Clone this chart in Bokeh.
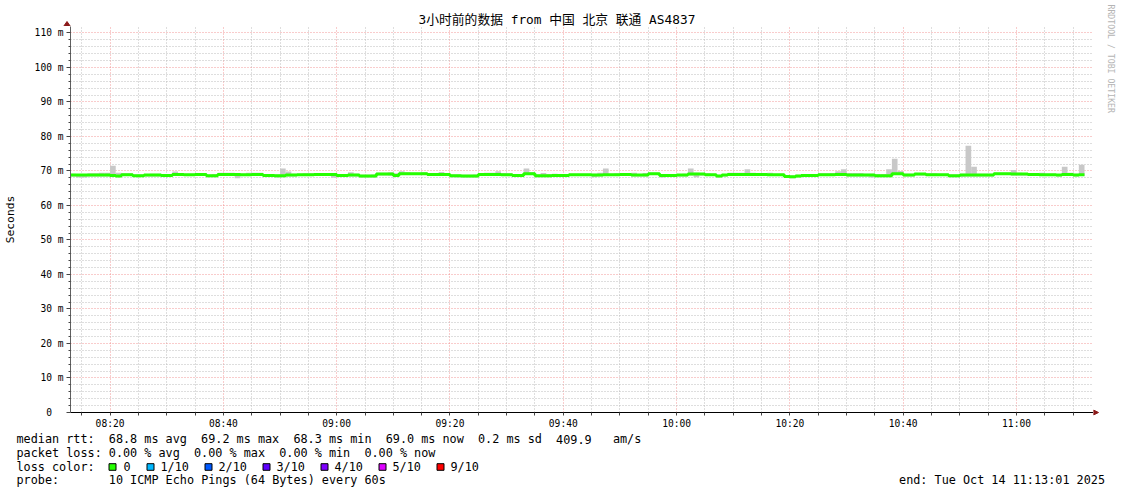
import datetime as dt
import math
from bokeh.plotting import figure
from bokeh.layouts import column, row
from bokeh.models import FixedTicker, Range1d, DatetimeTickFormatter
from bokeh.core.properties import value
from bokeh.embed import file_html
from bokeh.resources import INLINE

# ---------------- data ----------------
title_text = "3小时前的数据 from 中国 北京 联通 AS4837"
range_start = dt.datetime(2025, 10, 14, 8, 13, 1)
range_end = dt.datetime(2025, 10, 14, 11, 13, 1)
first_bin = dt.datetime(2025, 10, 14, 8, 13, 0)
step_minutes = 1

median_ms = [
    68.8, 68.8, 68.8, 68.8, 68.8, 68.8, 68.8, 68.7, 68.5, 68.9,
    68.9, 68.6, 68.6, 68.8, 68.8, 68.8, 68.7, 68.7, 69.0, 69.0,
    68.9, 68.9, 69.0, 69.0, 68.6, 68.6, 69.0, 69.0, 69.0, 69.0,
    68.9, 68.9, 69.0, 69.0, 68.7, 68.7, 68.6, 68.6, 68.8, 68.8,
    68.9, 68.9, 68.9, 69.0, 69.0, 69.0, 69.0, 68.7, 68.7, 68.8,
    68.8, 68.5, 68.5, 68.5, 69.1, 69.1, 69.1, 68.7, 69.2, 69.2,
    69.2, 69.2, 69.2, 69.0, 69.0, 69.0, 69.0, 68.6, 68.6, 68.5,
    68.5, 68.5, 69.0, 69.0, 69.0, 69.0, 68.9, 68.9, 68.7, 68.7,
    69.2, 69.2, 68.6, 68.6, 68.6, 68.7, 68.7, 68.7, 68.9, 68.9,
    68.9, 68.9, 68.8, 68.8, 68.9, 68.9, 68.9, 69.0, 69.0, 68.8,
    68.8, 68.8, 69.2, 69.2, 68.7, 68.7, 68.7, 68.8, 68.8, 69.1,
    69.1, 69.1, 68.9, 68.9, 68.5, 68.8, 69.0, 69.0, 69.0, 69.0,
    69.0, 69.0, 69.0, 68.9, 68.9, 68.9, 68.4, 68.3, 68.5, 68.7,
    68.7, 68.7, 68.9, 68.9, 68.9, 69.0, 69.0, 68.8, 68.8, 68.8,
    68.8, 68.8, 68.6, 68.6, 68.6, 69.2, 69.2, 68.8, 68.8, 69.1,
    69.1, 68.9, 68.9, 68.9, 68.9, 68.6, 68.6, 68.8, 68.8, 68.8,
    68.8, 68.8, 68.8, 69.2, 69.2, 69.2, 69.1, 69.1, 69.1, 69.0,
    69.0, 68.9, 68.9, 68.9, 68.8, 69.0, 69.0, 68.8, 68.9,
]

smoke_hi_ms = [
    69.2, 69.1, 69.1, 69.3, 69.3, 69.5, 69.5, 71.5, 69.5, 69.3,
    69.3, 69.0, 69.0, 69.1, 69.2, 69.2, 69.1, 69.1, 69.85, 69.3,
    69.2, 69.2, 69.3, 69.3, 69.0, 69.1, 69.5, 69.5, 69.5, 69.4,
    69.2, 69.5, 69.5, 69.5, 69.0, 69.0, 69.0, 70.7, 69.8, 69.2,
    69.2, 69.3, 69.3, 69.3, 69.3, 69.3, 69.4, 69.1, 69.1, 69.6,
    69.2, 68.9, 68.9, 69.0, 69.5, 69.5, 69.6, 69.3, 69.9, 69.6,
    69.5, 69.5, 69.6, 69.3, 69.3, 69.7, 69.4, 69.0, 69.0, 68.9,
    68.9, 69.0, 69.4, 69.5, 69.5, 69.9, 69.4, 69.3, 69.1, 69.1,
    70.7, 69.7, 69.0, 69.4, 69.1, 69.2, 69.1, 69.1, 69.2, 69.2,
    69.2, 69.2, 69.2, 69.5, 70.7, 69.2, 69.3, 69.3, 69.3, 69.5,
    69.1, 69.4, 69.5, 69.5, 69.0, 69.0, 69.0, 69.1, 69.2, 70.7,
    69.5, 69.4, 69.3, 69.2, 68.9, 69.1, 69.5, 69.5, 69.5, 70.5,
    69.5, 69.3, 69.3, 69.5, 69.2, 69.2, 68.8, 68.7, 68.9, 69.1,
    69.1, 69.1, 69.3, 69.3, 69.4, 69.9, 70.5, 69.4, 69.4, 69.4,
    69.2, 69.2, 69.1, 69.1, 70.5, 73.5, 70.0, 69.2, 69.2, 69.4,
    69.4, 69.3, 69.3, 69.2, 69.2, 69.0, 69.0, 69.2, 77.3, 71.2,
    69.2, 69.2, 69.2, 69.5, 69.5, 69.5, 70.3, 69.5, 69.4, 69.3,
    69.3, 69.5, 69.2, 69.2, 69.1, 71.2, 69.5, 69.2, 71.8,
]

smoke_lo_ms = [
    68.4, 68.1, 68.1, 68.4, 68.4, 68.4, 68.4, 68.3, 68.2, 68.5,
    68.5, 68.3, 68.3, 68.4, 68.4, 68.4, 68.3, 68.3, 68.6, 68.6,
    68.5, 68.5, 68.6, 68.6, 68.2, 68.2, 68.6, 68.6, 68.5, 67.9,
    68.5, 68.5, 68.6, 68.6, 68.3, 68.3, 68.1, 68.2, 68.4, 68.4,
    68.5, 68.5, 68.5, 68.6, 68.6, 68.6, 68.0, 68.3, 68.3, 68.4,
    68.4, 68.1, 68.1, 68.1, 68.7, 68.7, 68.6, 68.3, 68.8, 68.8,
    68.8, 68.8, 68.8, 68.6, 68.6, 68.6, 68.6, 68.2, 68.1, 68.1,
    68.1, 68.1, 68.6, 68.6, 68.6, 68.6, 68.5, 68.5, 68.3, 68.3,
    68.8, 68.8, 68.2, 68.2, 68.2, 68.3, 68.3, 68.3, 68.5, 68.5,
    68.5, 68.5, 68.2, 68.4, 68.5, 68.5, 68.5, 68.6, 68.6, 68.4,
    68.4, 68.4, 68.8, 68.8, 68.1, 68.3, 68.3, 68.4, 68.4, 68.7,
    68.2, 68.7, 68.5, 68.5, 68.1, 68.4, 68.6, 68.6, 68.6, 68.6,
    68.6, 68.6, 68.6, 68.5, 68.5, 68.5, 68.0, 67.9, 68.1, 68.3,
    68.3, 68.3, 68.5, 68.5, 68.5, 68.6, 68.6, 68.4, 68.4, 68.4,
    68.4, 68.1, 68.2, 68.2, 68.2, 68.8, 68.8, 68.4, 68.4, 68.7,
    68.7, 68.5, 68.5, 68.5, 68.5, 68.2, 68.2, 68.3, 68.4, 68.4,
    68.4, 68.4, 68.4, 68.8, 68.8, 68.8, 68.7, 68.7, 68.7, 68.6,
    68.6, 68.5, 68.5, 68.5, 68.4, 68.6, 68.6, 68.4, 68.5,
]

x_tick_labels = ["08:20", "08:40", "09:00", "09:20", "09:40",
                 "10:00", "10:20", "10:40", "11:00"]
x_minor_step_minutes = 5
y_tick_values = [0, 10, 20, 30, 40, 50, 60, 70, 80, 90, 100, 110]
y_tick_labels = ["0\u00a0\u00a0", "10 m", "20 m", "30 m", "40 m", "50 m",
                 "60 m", "70 m", "80 m", "90 m", "100 m", "110 m"]
y_minor_step = 2
y_axis_title = "Seconds"

rtt_avg, rtt_max, rtt_min, rtt_now, rtt_sd, am_s = 68.8, 69.2, 68.3, 69.0, 0.2, 409.9
loss_avg, loss_max, loss_min, loss_now = 0.00, 0.00, 0.00, 0.00
loss_labels = ["0", "1/10", "2/10", "3/10", "4/10", "5/10", "9/10"]
loss_colors = ["#26ff00", "#00b8ff", "#0059ff", "#5e00ff", "#7e00ff", "#dd00ff", "#ff0000"]
probe_text = "10 ICMP Echo Pings (64 Bytes) every 60s"
end_text = "end: Tue Oct 14 11:13:01 2025"
watermark = "RRDTOOL / TOBI OETIKER"

assert len(median_ms) == len(smoke_hi_ms) == len(smoke_lo_ms)

# ---------------- layout / style ----------------
MONO = "DejaVu Sans Mono"
ARROW = "#8b1a1a"
PAGE_W, PAGE_H = 1121, 494
FL, FT, FR, FB = 66, 26, 1093, 412        # frame edges in page pixels
MAIN_H = 432
PX_PER_MIN = 5.6875
PX_PER_MS = 3.451
FRAME_W = FR - FL
FRAME_H = FB - FT
BASE_FIX = 0.37                            # text baseline correction (em)

EPOCH = dt.datetime(1970, 1, 1)
def to_ms(d):
    return (d - EPOCH).total_seconds() * 1000.0

x0 = to_ms(range_start)
x1 = x0 + FRAME_W / PX_PER_MIN * 60000.0
y1 = FRAME_H / PX_PER_MS

p = figure(width=FR, height=MAIN_H - FT, x_axis_type="datetime", output_backend="svg",
           toolbar_location=None, title=None,
           x_range=Range1d(x0, x1), y_range=Range1d(0, y1))
p.frame_align = False
p.min_border_left, p.min_border_right = FL, 0
p.min_border_top, p.min_border_bottom = 0, MAIN_H - FB
p.outline_line_color = None
p.background_fill_color = "white"
p.border_fill_color = "white"

# smoke
n = len(median_ms)
lefts = [first_bin + dt.timedelta(minutes=k * step_minutes) for k in range(n)]
rights = [first_bin + dt.timedelta(minutes=(k + 1) * step_minutes) for k in range(n)]
p.quad(left=lefts, right=rights, bottom=smoke_lo_ms, top=smoke_hi_ms,
       fill_color="#c8c8c8", line_color=None)
# median
p.step(lefts + [rights[-1]], median_ms + [median_ms[-1]], mode="after",
       line_color="#26ff00", line_width=3)

# ticks
day = range_start.date()
def hm_to_ms(s):
    h, m = s.split(":")
    return to_ms(dt.datetime(day.year, day.month, day.day, int(h), int(m)))
x_major = [hm_to_ms(s) for s in x_tick_labels]
x_minor = []
t = dt.datetime(day.year, day.month, day.day, 8, 15)
while t <= range_end:
    v = to_ms(t)
    if v not in x_major:
        x_minor.append(v)
    t += dt.timedelta(minutes=x_minor_step_minutes)
p.xaxis.ticker = FixedTicker(ticks=x_major, minor_ticks=x_minor)
p.xaxis.formatter = DatetimeTickFormatter(seconds="%H:%M", minsec="%H:%M",
                                          minutes="%H:%M", hourmin="%H:%M",
                                          hours="%H:%M")
y_minor = [v for v in range(0, 112, y_minor_step) if v not in y_tick_values]
p.yaxis.ticker = FixedTicker(ticks=y_tick_values, minor_ticks=y_minor)
p.yaxis.major_label_overrides = dict(zip(y_tick_values, y_tick_labels))

for ax in (p.xaxis[0], p.yaxis[0]):
    ax.major_label_text_font = MONO
    ax.major_label_text_font_size = "9.6px"
    ax.major_label_text_color = "#000000"
    ax.major_tick_in = 0
    ax.minor_tick_in = 0
    ax.major_tick_line_color = "#444444"
    ax.minor_tick_line_color = "#444444"
p.xaxis.axis_line_color = "#000000"
p.yaxis.axis_line_color = "#606060"
p.xaxis.major_tick_out = 3
p.xaxis.minor_tick_out = 3
p.yaxis.major_tick_out = 4
p.yaxis.minor_tick_out = 2
p.xaxis.major_label_standoff = 2
p.yaxis.major_label_standoff = 3
p.yaxis.axis_label = y_axis_title
p.yaxis.axis_label_text_font = MONO
p.yaxis.axis_label_text_font_size = "11.3px"
p.yaxis.axis_label_text_font_style = "normal"
p.yaxis.axis_label_text_color = "#000000"
p.yaxis.axis_label_standoff = 15

for g in (p.xgrid[0], p.ygrid[0]):
    g.grid_line_color = "#f08080"
    g.grid_line_alpha = 0.8
    g.grid_line_dash = "1 2"
    g.minor_grid_line_color = "#bdbdbd"
    g.minor_grid_line_dash = "1 2"

def blank_fig(w, h, xr, yr):
    f = figure(width=w, height=h, output_backend="svg", toolbar_location=None,
               x_range=Range1d(*xr), y_range=Range1d(*yr),
               x_axis_location=None, y_axis_location=None, title=None)
    f.frame_align = False
    f.min_border = 0
    f.min_border_left = f.min_border_right = f.min_border_top = f.min_border_bottom = 0
    f.outline_line_color = None
    f.grid.visible = False
    f.background_fill_color = "white"
    f.border_fill_color = "white"
    return f

def txt(fig, xs, ys, texts, size, align="left", color="#000000", font=MONO, **kw):
    fig.text(x=xs, y=[y - BASE_FIX * size for y in ys], text=texts,
             text_font=value(font), text_font_size=value(f"{size}px"),
             text_color=color, text_align=value(align),
             text_baseline=value("alphabetic"), **kw)

# top strip: title + y-axis arrow head (page pixel coordinates)
pt = blank_fig(FR, FT, (0, FR), (FT, 0))
txt(pt, [418], [23.3], [title_text], 12.8,
    font="DejaVu Sans Mono, Noto Sans CJK SC")
pt.patch([FL - 3, FL + 0.5, FL + 4], [FT, FT - 5, FT], fill_color=ARROW,
         line_color=ARROW)

# right strip: x-axis arrow head + watermark
pw = blank_fig(PAGE_W - FR, MAIN_H, (FR, PAGE_W), (MAIN_H, 0))
pw.patch([FR, FR + 5, FR], [FB - 2.5, FB, FB + 2.5], fill_color=ARROW,
         line_color=ARROW)
pw.text(x=[1110.5], y=[4], text=[watermark], angle=-math.pi / 2,
        text_font=value(MONO), text_font_size=value("8.2px"),
        text_color="#b4b4b4", text_align=value("left"), text_baseline=value("middle"))

# legend strip below
pl = blank_fig(PAGE_W, PAGE_H - MAIN_H, (0, PAGE_W), (PAGE_H, MAIN_H))
CW = 7.1
LX = 16
FS = 11.8
rows_y = [443, 456.8, 470.5, 484.3]
row1 = [(0, "median rtt:"), (13, f"{rtt_avg:.1f} ms avg"), (26, f"{rtt_max:.1f} ms max"),
        (39, f"{rtt_min:.1f} ms min"), (52, f"{rtt_now:.1f} ms now"),
        (65, f"{rtt_sd:.1f} ms sd"), (76, f"{am_s:.1f}"), (84, "am/s")]
row2 = [(0, "packet loss:"), (13, f"{loss_avg:.2f} % avg"), (25, f"{loss_max:.2f} % max"),
        (37, f"{loss_min:.2f} % min"), (49, f"{loss_now:.2f} % now")]
sq_left = [108, 146, 204, 262, 320, 378, 436]
txt_left = [123, 160, 218, 276, 334, 392, 450]

tx, ty, tt = [], [], []
for col, s in row1:
    tx.append(LX + col * CW); ty.append(rows_y[0]); tt.append(s)
for col, s in row2:
    tx.append(LX + col * CW); ty.append(rows_y[1]); tt.append(s)
tx.append(LX); ty.append(rows_y[2]); tt.append("loss color:")
for xl, s in zip(txt_left, loss_labels):
    tx.append(xl); ty.append(rows_y[2]); tt.append(s)
tx.append(LX); ty.append(rows_y[3]); tt.append("probe:")
tx.append(LX + 13 * CW); ty.append(rows_y[3]); tt.append(probe_text)
txt(pl, tx, ty, tt, FS)
txt(pl, [1104.5], [rows_y[3]], [end_text], FS, align="right")
pl.quad(left=[s + 0.5 for s in sq_left], right=[s + 7.5 for s in sq_left],
        top=463.2, bottom=469.8, fill_color=loss_colors, line_color="#000000",
        line_width=1)

layout = column(row(column(pt, p), pw), pl)
open("out.html", "w").write(file_html(layout, INLINE))
